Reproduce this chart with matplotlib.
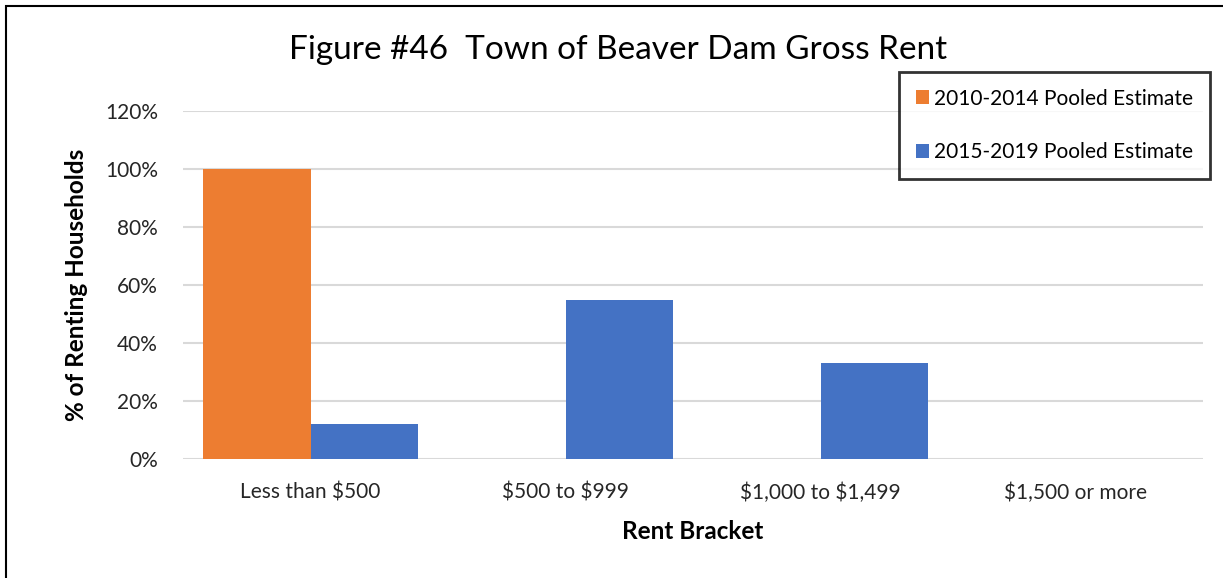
import matplotlib
matplotlib.use('Agg')
import matplotlib.pyplot as plt
from matplotlib.patches import Rectangle
from matplotlib.ticker import PercentFormatter
import numpy as np

plt.rcParams['font.family'] = ['Lato', 'DejaVu Sans']
plt.rcParams['text.parse_math'] = False

brackets = ['Less than $500', '$500 to $999', '$1,000 to $1,499', '$1,500 or more']
est_2010_2014 = [100, 0, 0, 0]
est_2015_2019 = [12, 55, 33, 0]
series_names = ['2010-2014 Pooled Estimate', '2015-2019 Pooled Estimate']

ORANGE = '#ed7d31'
BLUE = '#4472c4'
GRID = '#d9d9d9'

fig = plt.figure(figsize=(12.23, 5.78), dpi=100)
ax = fig.add_axes([183 / 1223, 1 - 459 / 578, 1020 / 1223, 348 / 578])

x = np.arange(len(brackets))
w = 0.42
ax.bar(x - w / 2, est_2010_2014, w, color=ORANGE, label=series_names[0])
ax.bar(x + w / 2, est_2015_2019, w, color=BLUE, label=series_names[1])

ax.set_xlim(-0.5, len(brackets) - 0.5)
ax.set_ylim(0, 120)
ax.set_yticks(range(0, 121, 20))
ax.yaxis.set_major_formatter(PercentFormatter(decimals=0))
ax.set_xticks(x)
ax.set_xticklabels(brackets)
ax.tick_params(length=0, labelsize=15, colors='#262626')
ax.tick_params(axis='x', pad=17)
ax.tick_params(axis='y', pad=18)
ax.grid(axis='y', color=GRID, linewidth=1.5)
ax.set_axisbelow(True)
for s in ax.spines.values():
    s.set_visible(False)

ax.set_xlabel('Rent Bracket', fontsize=17.5, fontweight='bold', labelpad=12)
ax.set_ylabel('% of Renting Households', fontsize=17.5, fontweight='bold')
ax.yaxis.set_label_coords(-0.093, 0.5)

fig.text(618 / 1223, 1 - 50 / 578, 'Figure #46  Town of Beaver Dam Gross Rent',
         ha='center', va='center', fontsize=24)

leg = fig.legend(loc='upper right', bbox_to_anchor=(1210 / 1223, 1 - 72 / 578),
                 fontsize=15, frameon=True, fancybox=False, edgecolor='black',
                 handlelength=0.65, handleheight=0.65, handletextpad=0.25,
                 labelspacing=1.6, borderpad=0.8, borderaxespad=0)
leg.get_frame().set_linewidth(2)

# outer frame of the chart
fig.patches.append(Rectangle((6 / 1223, -0.1), 1.2, 1 - 6 / 578 + 0.1,
                             transform=fig.transFigure, fill=False,
                             edgecolor='black', linewidth=1.5))

fig.savefig('out.png', dpi=100)
